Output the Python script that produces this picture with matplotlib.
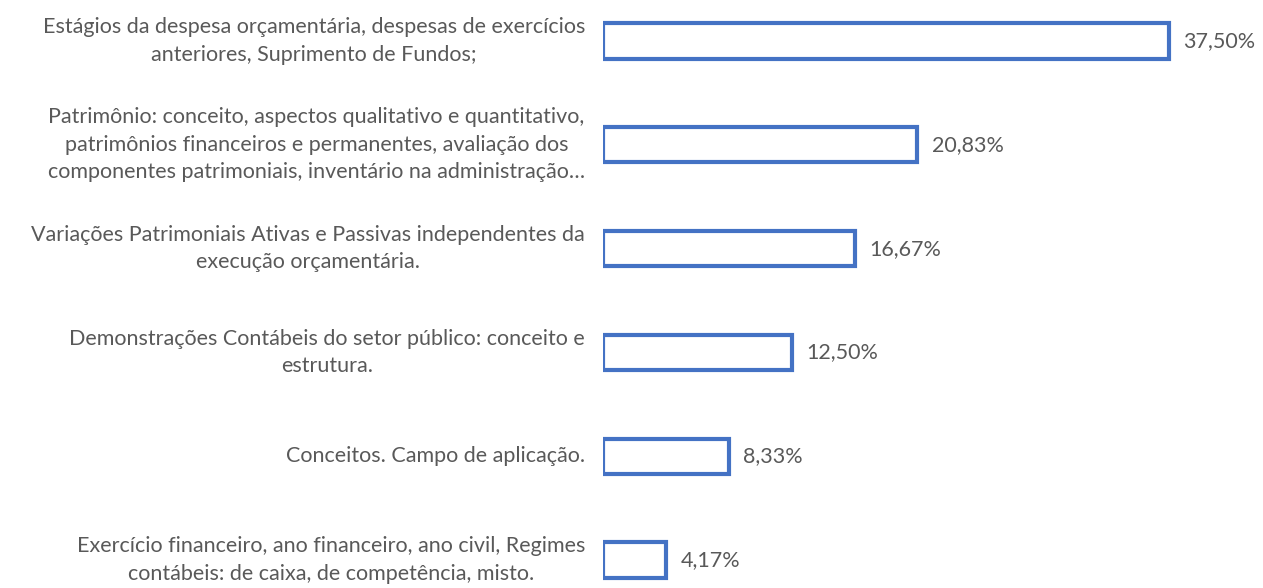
import matplotlib.pyplot as plt

categories = [
    "Estágios da despesa orçamentária, despesas de exercícios\nanteriores, Suprimento de Fundos;",
    "Patrimônio: conceito, aspectos qualitativo e quantitativo,\npatrimônios financeiros e permanentes, avaliação dos\ncomponentes patrimoniais, inventário na administração…",
    "Variações Patrimoniais Ativas e Passivas independentes da\nexecução orçamentária.",
    "Demonstrações Contábeis do setor público: conceito e\nestrutura.",
    "Conceitos. Campo de aplicação.",
    "Exercício financeiro, ano financeiro, ano civil, Regimes\ncontábeis: de caixa, de competência, misto.",
]
values = [37.50, 20.83, 16.67, 12.50, 8.33, 4.17]
value_labels = ["37,50%", "20,83%", "16,67%", "12,50%", "8,33%", "4,17%"]

plt.rcParams['font.family'] = ['Lato', 'DejaVu Sans']
text_color = '#595959'
blue = '#4472C4'

W, H = 1263, 588
fig = plt.figure(figsize=(W / 100, H / 100), dpi=100)

# axes placed so bar centres land at ~41px and ~560px from the top
step = 103.8
top_px = 41 - 0.5 * step
bot_px = 560 + 0.5 * step
ax = fig.add_axes([603 / W, 1 - bot_px / H, 603.6 / W, (bot_px - top_px) / H])
ax.set_xlim(0, 40)
ax.set_ylim(5.5, -0.5)

ypos = list(range(len(values)))
ax.barh(ypos, values, height=0.34, color='white', edgecolor=blue, linewidth=3)

for y, v, lab in zip(ypos, values, value_labels):
    ax.text(v + 0.95, y, lab, va='center', ha='left', fontsize=15.5, color=text_color)

for y, cat in zip(ypos, categories):
    ax.text(-1.2, y, cat, va='center', ha='right', multialignment='center',
            fontsize=15.5, color=text_color, linespacing=1.48)

ax.axis('off')
fig.savefig('out.png', dpi=100)
